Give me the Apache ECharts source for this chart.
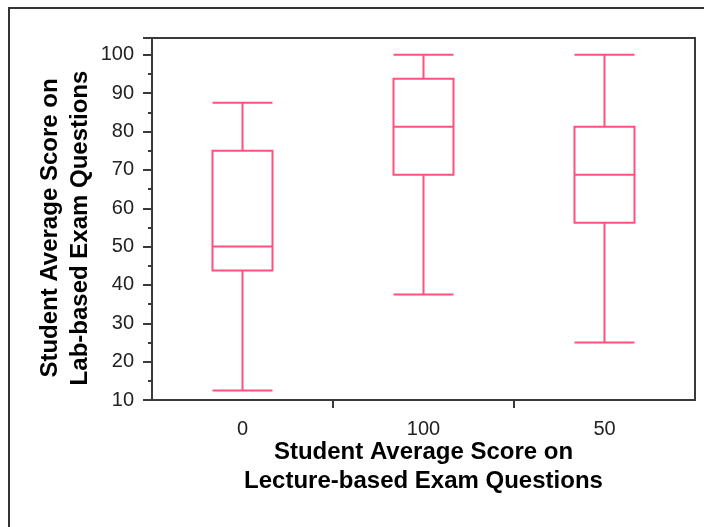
<!DOCTYPE html>
<html>
<head>
<meta charset="utf-8">
<script src="https://cdn.jsdelivr.net/npm/echarts@6/dist/echarts.min.js"></script>
<style>
html,body{margin:0;padding:0;background:#fff;}
#c{width:704px;height:527px;}
</style>
</head>
<body>
<div id="c"></div>
<script>
const categories = ['0', '100', '50'];
// [lower whisker, Q1, median, Q3, upper whisker]
const lowerWhisker = [12.5, 37.5, 25];
const q1Values = [43.75, 68.75, 56.25];
const medians = [50, 81.25, 68.75];
const q3Values = [75, 93.75, 81.25];
const upperWhisker = [87.5, 100, 100];
const yTicks = [10, 20, 30, 40, 50, 60, 70, 80, 90, 100];

const boxData = categories.map((c, i) => [lowerWhisker[i], q1Values[i], medians[i], q3Values[i], upperWhisker[i]]);
// inner category boundaries (where the reference draws x ticks)
const boundaryTicks = categories.slice(1).map((c, i) => i + 1);

const chart = echarts.init(document.getElementById('c'), null, {renderer: 'canvas'});
const axisColor = '#3a3a3a';
const font = '"Liberation Sans", Arial, sans-serif';
chart.setOption({
  animation: false,
  backgroundColor: '#fff',
  graphic: [{
    type: 'rect', silent: true, z: -1,
    shape: {x: 9, y: 8, width: 720, height: 540},
    style: {fill: 'none', stroke: '#333', lineWidth: 2}
  }],
  grid: {left: 152, right: 9, top: 38, bottom: 127, show: true, borderColor: axisColor, borderWidth: 2, backgroundColor: '#fff'},
  xAxis: [{
    type: 'category',
    data: categories,
    boundaryGap: true,
    axisLine: {lineStyle: {color: axisColor, width: 2}},
    axisTick: {show: false},
    axisLabel: {color: '#222', fontSize: 20, fontFamily: font, margin: 19},
    splitLine: {show: false},
    name: 'Student Average Score on\nLecture-based Exam Questions',
    nameLocation: 'middle',
    nameMoveOverlap: false,
    nameGap: 38,
    nameTextStyle: {color: '#000', fontSize: 24, fontWeight: 'bold', fontFamily: font, lineHeight: 29}
  }, {
    type: 'value',
    position: 'bottom',
    min: 0,
    max: categories.length,
    interval: 1,
    axisLine: {show: false},
    axisLabel: {show: false},
    splitLine: {show: false},
    axisTick: {show: true, length: 8, customValues: boundaryTicks, lineStyle: {color: axisColor, width: 2}}
  }],
  yAxis: {
    type: 'value',
    min: 10,
    max: 104.4,
    interval: 10,
    axisLine: {show: true, lineStyle: {color: axisColor, width: 2}},
    axisTick: {show: true, length: 9, lineStyle: {color: axisColor, width: 2}},
    minorTick: {show: true, splitNumber: 2, length: 4, lineStyle: {color: axisColor, width: 2}},
    axisLabel: {
      color: '#222', fontSize: 20, fontFamily: font, margin: 18,
      showMaxLabel: false,
      formatter: v => (yTicks.indexOf(Math.round(v * 100) / 100) >= 0 ? String(v) : '')
    },
    splitLine: {show: false},
    name: 'Student Average Score on\nLab-based Exam Questions',
    nameLocation: 'middle',
    nameMoveOverlap: false,
    nameRotate: 90,
    nameGap: 57,
    nameTextStyle: {color: '#000', fontSize: 24, fontWeight: 'bold', fontFamily: font, lineHeight: 30, padding: [0, 18, 0, 0]}
  },
  series: [{
    type: 'boxplot',
    xAxisIndex: 0,
    data: boxData,
    boxWidth: [60, 60],
    itemStyle: {color: 'rgba(255,255,255,0)', borderColor: '#ff5080', borderWidth: 2},
    emphasis: {disabled: true}
  }]
});
</script>
</body>
</html>
